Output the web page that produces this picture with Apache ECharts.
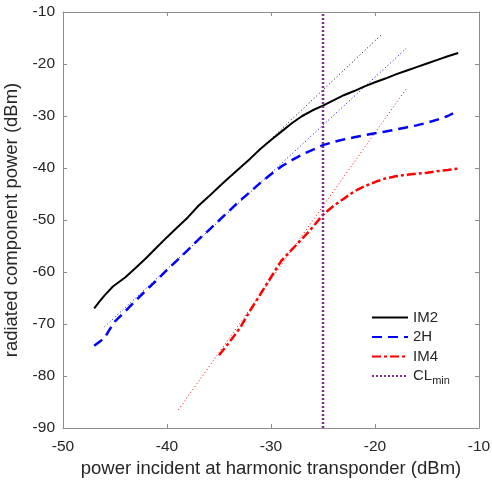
<!DOCTYPE html>
<html><head><meta charset="utf-8">
<script src="https://cdn.jsdelivr.net/npm/echarts@6/dist/echarts.min.js"></script>
<style>html,body{margin:0;padding:0;background:#fff}#c{width:492px;height:482px}</style>
</head><body><div id="c"></div>
<script>
const xTicks = [-50, -40, -30, -20, -10];
const yTicks = [-90, -80, -70, -60, -50, -40, -30, -20, -10];

const im2X = [-47,-46.5,-46,-45.2,-44,-43,-42,-41,-40,-39,-38,-37,-36,-35,-34,-33,-32,-31,-30,-29,-28,-27,-26,-25,-24,-23,-22,-21,-20,-19,-18,-17,-16,-15,-14,-13,-12];
const im2Y = [-67,-65.7,-64.5,-62.8,-61,-59.2,-57.3,-55.3,-53.3,-51.4,-49.5,-47.3,-45.5,-43.6,-41.8,-40,-38.2,-36.3,-34.6,-33.0,-31.4,-30.0,-28.9,-28,-27.0,-26.0,-25.2,-24.3,-23.5,-22.8,-22.0,-21.3,-20.6,-19.9,-19.2,-18.5,-17.9];

const h2X = [-47,-46,-45.5,-45,-44,-43,-42,-41,-40,-39,-38,-37,-36,-35,-34,-33,-32,-31,-30,-29,-28,-27,-26,-25,-24,-23,-22,-21,-20,-19,-18,-17,-16,-15,-14,-13,-12.5];
const h2Y = [-74.2,-72.7,-71.0,-69.5,-67.5,-65.5,-63.5,-61.6,-59.6,-57.7,-55.8,-53.8,-52,-50.1,-48.2,-46.3,-44.6,-42.8,-41.2,-39.7,-38.5,-37.4,-36.5,-35.6,-35.0,-34.5,-34.1,-33.7,-33.3,-33.0,-32.6,-32.2,-31.8,-31.3,-30.7,-30.0,-29.5];

const im4X = [-35,-34,-33,-32,-31,-30,-29,-28,-27,-26,-25,-24,-23,-22,-21,-20,-19,-18,-17,-16,-15,-14,-13,-12];
const im4Y = [-76,-73.5,-70.8,-67.4,-64.2,-61.0,-57.8,-55.7,-53.6,-51.4,-49.0,-47.3,-45.9,-44.5,-43.5,-42.7,-42.0,-41.6,-41.3,-41.1,-40.9,-40.6,-40.4,-40.1];

const im2FitX = [-32, -19.4];
const im2FitY = [-38.2, -14.4];
const h2FitX = [-46, -17];
const h2FitY = [-70.5, -17];
const im4FitX = [-38.9, -16.9];
const im4FitY = [-86.5, -24.5];

const clX = [-25, -25];
const clY = [-90, -10];

const zip = (xs, ys) => xs.map((x, i) => [x, ys[i]]);
const font = "'Liberation Sans', Arial, sans-serif";

function line(name, xs, ys, color, width, type, z) {
  return { name, type: 'line', data: zip(xs, ys), symbol: 'none', smooth: false,
    lineStyle: { color, width, type }, itemStyle: { color }, z: z || 2, animation: false };
}

const axisCol = '#8c8c8c';
const chart = echarts.init(document.getElementById('c'));
chart.setOption({
  animation: false,
  grid: { left: 63, right: 13, top: 12, bottom: 54, containLabel: false, outerBoundsMode: 'none' },
  xAxis: [
    { type: 'value', min: -50, max: -10, interval: 10, position: 'bottom',
      name: 'power incident at harmonic transponder (dBm)', nameLocation: 'middle', nameGap: 30,
      nameTextStyle: { fontFamily: font, fontSize: 18.5, color: '#262626' },
      axisLine: { show: true, lineStyle: { color: axisCol, width: 1 } },
      axisTick: { show: true, inside: true, length: 4, lineStyle: { color: axisCol } },
      axisLabel: { fontFamily: font, fontSize: 15.5, color: '#262626', margin: 11 },
      splitLine: { show: false } },
    { type: 'value', min: -50, max: -10, interval: 10, position: 'top',
      axisLine: { show: true, lineStyle: { color: axisCol, width: 1 } },
      axisTick: { show: true, inside: true, length: 4, lineStyle: { color: axisCol } },
      axisLabel: { show: false }, splitLine: { show: false } }
  ],
  yAxis: [
    { type: 'value', min: -90, max: -10, interval: 10, position: 'left',
      name: 'radiated component power (dBm)', nameLocation: 'middle', nameGap: 36, nameRotate: 90,
      nameTextStyle: { fontFamily: font, fontSize: 18.5, color: '#262626' },
      axisLine: { show: true, lineStyle: { color: axisCol, width: 1 } },
      axisTick: { show: true, inside: true, length: 4, lineStyle: { color: axisCol } },
      axisLabel: { fontFamily: font, fontSize: 15.5, color: '#262626', margin: 8 },
      splitLine: { show: false } },
    { type: 'value', min: -90, max: -10, interval: 10, position: 'right',
      axisLine: { show: true, lineStyle: { color: axisCol, width: 1 } },
      axisTick: { show: true, inside: true, length: 4, lineStyle: { color: axisCol } },
      axisLabel: { show: false }, splitLine: { show: false } }
  ],
  legend: {
    data: ['IM2', '2H', 'IM4', 'CLmin'],
    orient: 'vertical', left: 366, top: 305, itemWidth: 36, itemHeight: 14, itemGap: 4.5,
    itemStyle: { opacity: 0 },
    textStyle: { fontFamily: font, fontSize: 15, lineHeight: 15, color: '#262626',
      rich: { sub: { fontFamily: font, fontSize: 11, color: '#262626', padding: [9, 0, 0, 0] } } },
    formatter: n => n === 'CLmin' ? 'CL{sub|min}' : n,
    selectedMode: false
  },
  series: [
    line('im2fit', im2FitX, im2FitY, '#000000', 1, [1, 2.5], 1),
    line('h2fit', h2FitX, h2FitY, '#0000ff', 1, [1, 2.5], 1),
    line('im4fit', im4FitX, im4FitY, '#ff0000', 1, [1, 2.5], 1),
    line('IM2', im2X, im2Y, '#000000', 2, 'solid', 3),
    line('2H', h2X, h2Y, '#0000ff', 2.5, [10, 6], 3),
    line('IM4', im4X, im4Y, '#ff0000', 2.5, [9, 3, 3, 3], 3),
    line('CLmin', clX, clY, '#7e2f8e', 2.5, [2, 2], 4)
  ]
});
</script></body></html>
